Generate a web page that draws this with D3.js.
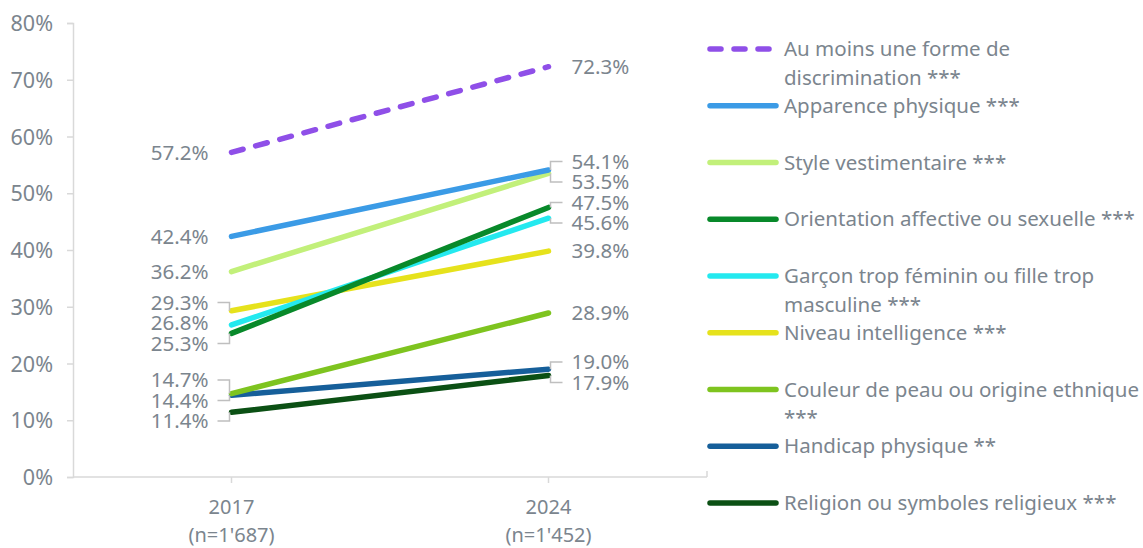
<!DOCTYPE html>
<html>
<head>
<meta charset="utf-8">
<script src="https://cdn.jsdelivr.net/npm/d3@7"></script>
<style>
  body { margin: 0; background: #fff; }
  svg text { font-family: "Noto Sans", "Open Sans", sans-serif; fill: #7b858e; }
</style>
</head>
<body>
<div id="chart"></div>
<script>
const years = ["2017", "2024"];
const yearSub = ["(n=1'687)", "(n=1'452)"];

const seriesNames = [
  "Au moins une forme de\ndiscrimination ***",
  "Apparence physique ***",
  "Style vestimentaire ***",
  "Orientation affective ou sexuelle ***",
  "Garçon trop féminin ou fille trop\nmasculine ***",
  "Niveau intelligence ***",
  "Couleur de peau ou origine ethnique\n***",
  "Handicap physique **",
  "Religion ou symboles religieux ***"
];
const values2017 = [57.2, 42.4, 36.2, 25.3, 26.8, 29.3, 14.7, 14.4, 11.4];
const values2024 = [72.3, 54.1, 53.5, 47.5, 45.6, 39.8, 28.9, 19.0, 17.9];
const colors = ["#8f4fe8", "#3b9be6", "#c2f07a", "#08892a", "#24e9ef", "#e6e21c", "#7ec41f", "#165f9a", "#0b5014"];
const dashed = [true, false, false, false, false, false, false, false, false];
const yTicks = [0, 10, 20, 30, 40, 50, 60, 70, 80];

const W = 1143, H = 548;
const svg = d3.select("#chart").append("svg")
  .attr("width", W).attr("height", H);

var x = d3.scaleBand().domain(years).range([73, 707]);
var y = d3.scaleLinear().domain([0, 80]).range([477, 23]);
var cx = function(yr) { return x(yr) + x.bandwidth() / 2; };

// y axis
var yAxis = svg.append("g").attr("transform", "translate(73,0)")
  .call(d3.axisLeft(y).tickValues(yTicks).tickSize(6).tickPadding(14)
    .tickFormat(function(d) { return d + "%"; }));
yAxis.select(".domain").attr("stroke", "#d9d9d9").attr("stroke-width", 1.5);
yAxis.selectAll(".tick line").attr("stroke", "#d9d9d9").attr("stroke-width", 1.5);
yAxis.selectAll(".tick text").style("font-size", "21.5px").attr("dy", "0.35em");

// x axis
var xAxis = svg.append("g").attr("transform", "translate(0,477)");
xAxis.append("line").attr("x1", 73).attr("x2", 707)
  .attr("stroke", "#d9d9d9").attr("stroke-width", 1.5);
xAxis.append("line").attr("x1", 707).attr("x2", 707).attr("y1", 0).attr("y2", -6)
  .attr("stroke", "#d9d9d9").attr("stroke-width", 1.5);
years.forEach(function(yr, i) {
  xAxis.append("line").attr("x1", cx(yr)).attr("x2", cx(yr)).attr("y1", 0).attr("y2", 6)
    .attr("stroke", "#d9d9d9").attr("stroke-width", 1.5);
  xAxis.append("text").attr("x", cx(yr)).attr("y", 37).attr("text-anchor", "middle")
    .style("font-size", "20px").text(yr);
  xAxis.append("text").attr("x", cx(yr)).attr("y", 65).attr("text-anchor", "middle")
    .style("font-size", "20px").text(yearSub[i]);
});

// lines (draw bottom to top so the first series is on top)
var line = d3.line().x(function(d) { return cx(d[0]); }).y(function(d) { return y(d[1]); });
var order = d3.range(seriesNames.length).reverse();
order.forEach(function(i) {
  svg.append("path")
    .datum([[years[0], values2017[i]], [years[1], values2024[i]]])
    .attr("d", line)
    .attr("fill", "none")
    .attr("stroke", colors[i])
    .attr("stroke-width", 5.5)
    .attr("stroke-linecap", "round")
    .attr("stroke-dasharray", dashed[i] ? "12,13" : null);
});

// value labels with simple collision avoidance
function layoutLabels(vals, gap) {
  var items = vals.map(function(v, i) { return { i: i, target: y(v) }; })
    .sort(function(a, b) { return a.target - b.target; });
  var clusters = items.map(function(it) { return { members: [it], pos: it.target }; });
  var changed = true;
  while (changed) {
    changed = false;
    for (var k = 0; k < clusters.length - 1; k++) {
      var a = clusters[k], b = clusters[k + 1];
      var aEnd = a.pos + (a.members.length - 1) * gap;
      if (b.pos - aEnd < gap) {
        var members = a.members.concat(b.members);
        var mean = d3.mean(members, function(m) { return m.target; });
        clusters.splice(k, 2, { members: members, pos: mean - (members.length - 1) * gap / 2 });
        changed = true;
        break;
      }
    }
  }
  var out = [];
  clusters.forEach(function(c) {
    c.members.forEach(function(m, j) { out[m.i] = c.pos + j * gap; });
  });
  return out;
}

function drawLabels(vals, yr, side) {
  var ly = layoutLabels(vals, 20.5);
  var px = cx(yr);
  var g = svg.append("g");
  vals.forEach(function(v, i) {
    var py = y(v);
    if (Math.abs(ly[i] - py) > 4) {
      g.append("path")
        .attr("d", "M" + (px + side * 2) + "," + py + "V" + ly[i] + "H" + (px + side * 14))
        .attr("fill", "none").attr("stroke", "#bfbfbf").attr("stroke-width", 1.5);
    }
    g.append("text")
      .attr("x", px + side * 23)
      .attr("y", ly[i])
      .attr("dy", "0.35em")
      .attr("text-anchor", side < 0 ? "end" : "start")
      .style("font-size", "20.5px")
      .text(v.toFixed(1) + "%");
  });
}
drawLabels(values2017, years[0], -1);
drawLabels(values2024, years[1], 1);

// legend
var legend = svg.append("g");
seriesNames.forEach(function(name, i) {
  var ry = 49 + i * 56.75;
  legend.append("line")
    .attr("x1", 710).attr("x2", 776).attr("y1", ry).attr("y2", ry)
    .attr("stroke", colors[i]).attr("stroke-width", 5.5)
    .attr("stroke-linecap", "round")
    .attr("stroke-dasharray", dashed[i] ? "11,13" : null);
  var t = legend.append("text").attr("x", 784).attr("y", ry)
    .style("font-size", "20.5px");
  name.split("\n").forEach(function(part, j) {
    t.append("tspan").attr("x", 784).attr("dy", j === 0 ? "0.35em" : 28.5).text(part);
  });
});
</script>
</body>
</html>
